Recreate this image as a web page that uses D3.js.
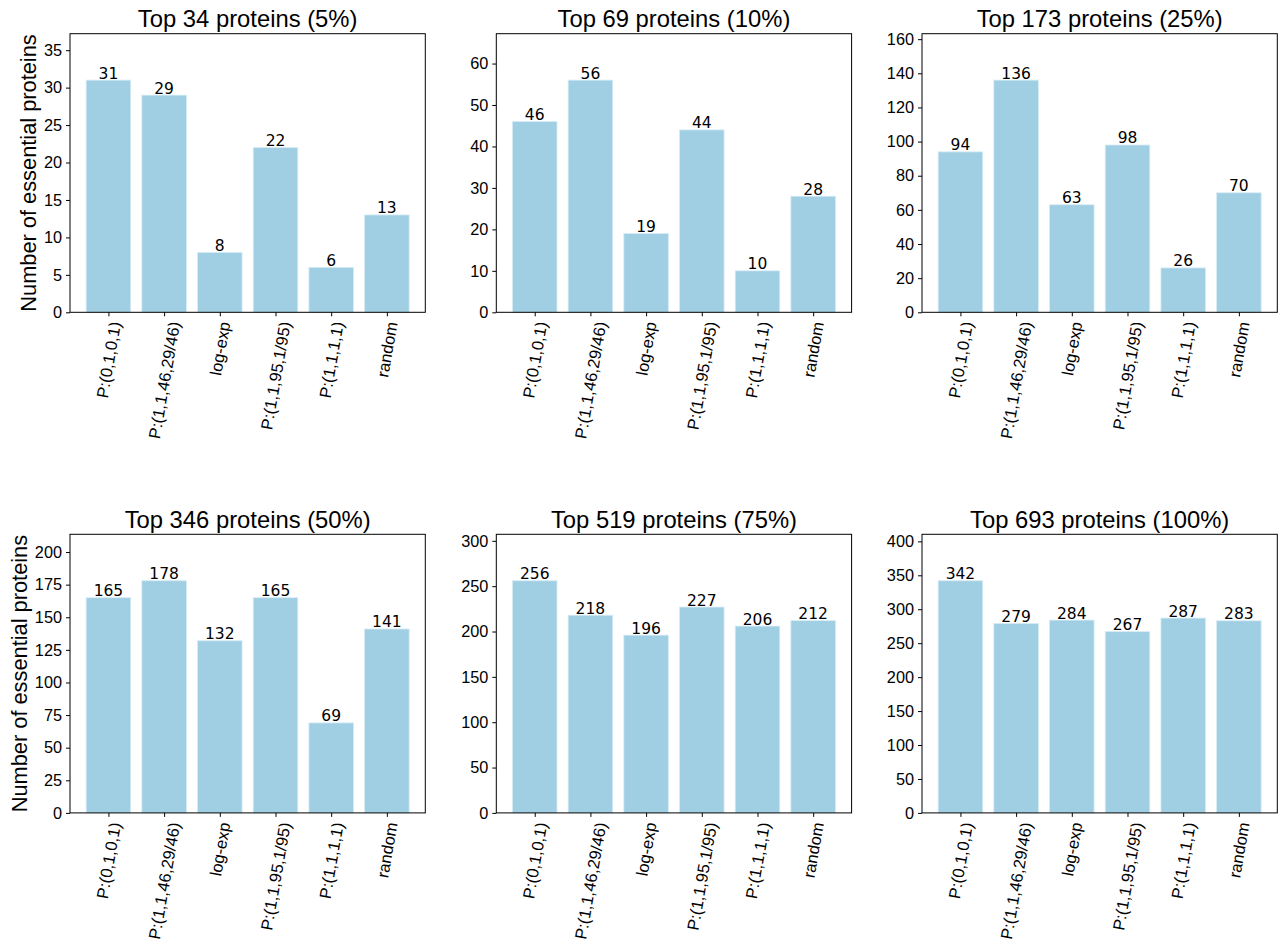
<!DOCTYPE html>
<html>
<head>
<meta charset="utf-8">
<script src="https://cdn.jsdelivr.net/npm/d3@7"></script>
<style>
  html, body { margin: 0; padding: 0; background: #fff; }
  svg { display: block; }
</style>
</head>
<body>
<svg id="chart" width="1279" height="946"></svg>
<script>
const categories = ["P:(0,1,0,1)", "P:(1,1,46,29/46)", "log-exp", "P:(1,1,95,1/95)", "P:(1,1,1,1)", "random"];
const titles = ["Top 34 proteins (5%)", "Top 69 proteins (10%)", "Top 173 proteins (25%)",
                "Top 346 proteins (50%)", "Top 519 proteins (75%)", "Top 693 proteins (100%)"];
const top5   = [31, 29, 8, 22, 6, 13];
const top10  = [46, 56, 19, 44, 10, 28];
const top25  = [94, 136, 63, 98, 26, 70];
const top50  = [165, 178, 132, 165, 69, 141];
const top75  = [256, 218, 196, 227, 206, 212];
const top100 = [342, 279, 284, 267, 287, 283];
const ticks5   = [0, 5, 10, 15, 20, 25, 30, 35];
const ticks10  = [0, 10, 20, 30, 40, 50, 60];
const ticks25  = [0, 20, 40, 60, 80, 100, 120, 140, 160];
const ticks50  = [0, 25, 50, 75, 100, 125, 150, 175, 200];
const ticks75  = [0, 50, 100, 150, 200, 250, 300];
const ticks100 = [0, 50, 100, 150, 200, 250, 300, 350, 400];
const yLabel = "Number of essential proteins";

const seriesList = [top5, top10, top25, top50, top75, top100];
const tickList = [ticks5, ticks10, ticks25, ticks50, ticks75, ticks100];

const svg = d3.select("#chart");
const lefts = [70, 496.3, 922];
const tops = [33.7, 534.3];
const W = 355.3, H = 278.6;
const barColor = "#a0cfe3";
const sans = "'Liberation Sans', Arial, Helvetica, sans-serif";
const dejavu = "'DejaVu Sans', sans-serif";

seriesList.forEach((vals, k) => {
  const col = k % 3, row = Math.floor(k / 3);
  const x0 = lefts[col], y0 = tops[row];
  const g = svg.append("g").attr("transform", `translate(${x0},${y0})`);
  const x = d3.scaleLinear().domain([-0.69, 5.69]).range([0, W]);
  const y = d3.scaleLinear().domain([0, d3.max(vals) * 1.2]).range([H, 0]);

  // bars
  g.selectAll("rect.bar").data(vals).join("rect")
    .attr("class", "bar")
    .attr("x", (d, i) => x(i - 0.4))
    .attr("width", x(0.4) - x(-0.4))
    .attr("y", d => y(d))
    .attr("height", d => H - y(d))
    .attr("fill", barColor)
    .attr("stroke", "#d6ecf5")
    .attr("stroke-width", 0.8);

  // value labels
  g.selectAll("text.val").data(vals).join("text")
    .attr("class", "val")
    .attr("x", (d, i) => x(i))
    .attr("y", d => y(d) - 1.5)
    .attr("text-anchor", "middle")
    .attr("font-family", dejavu)
    .attr("font-size", "15.5px")
    .attr("fill", "#000")
    .text(d => d);

  // y axis
  const yAxis = d3.axisLeft(y).tickValues(tickList[k]).tickSize(4).tickPadding(4).tickFormat(d3.format("d"));
  const ya = g.append("g").call(yAxis);
  ya.select(".domain").remove();
  ya.selectAll("line").attr("stroke", "#000").attr("stroke-width", 1);
  ya.selectAll("text").attr("font-family", sans).attr("font-size", "16.3px").attr("fill", "#000");

  // x axis ticks
  const xAxis = d3.axisBottom(x).tickValues(d3.range(categories.length)).tickSize(4).tickFormat("");
  const xa = g.append("g").attr("transform", `translate(0,${H})`).call(xAxis);
  xa.select(".domain").remove();
  xa.selectAll("line").attr("stroke", "#000").attr("stroke-width", 1);

  // rotated x labels
  categories.forEach((c, i) => {
    const lg = g.append("g");
    lg.append("text")
      .attr("transform", "rotate(-80)")
      .attr("text-anchor", "end")
      .attr("font-family", sans)
      .attr("font-size", "16.5px")
      .attr("fill", "#000")
      .text(c);
    const r = lg.node().getBoundingClientRect();
    const cx = x0 + x(i), topY = y0 + H + 8;
    lg.attr("transform", `translate(${cx - (r.left + r.width / 2)},${topY - r.top})`);
  });

  // frame
  g.append("rect").attr("x", 0).attr("y", 0).attr("width", W).attr("height", H)
    .attr("fill", "none").attr("stroke", "#000").attr("stroke-width", 1);

  // title
  g.append("text")
    .attr("x", W / 2).attr("y", -6.5)
    .attr("text-anchor", "middle")
    .attr("font-family", sans)
    .attr("font-size", "23.8px")
    .attr("fill", "#000")
    .text(titles[k]);

  // y label: placed left of the tick labels like matplotlib
  if (col === 0) {
    const labelsLeft = d3.min(ya.selectAll("text").nodes(), n => n.getBoundingClientRect().left);
    svg.append("text")
      .attr("transform", `translate(${labelsLeft - 8},${y0 + H / 2}) rotate(-90)`)
      .attr("text-anchor", "middle")
      .attr("font-family", sans)
      .attr("font-size", "21.8px")
      .attr("fill", "#000")
      .text(yLabel);
  }
});
</script>
</body>
</html>
